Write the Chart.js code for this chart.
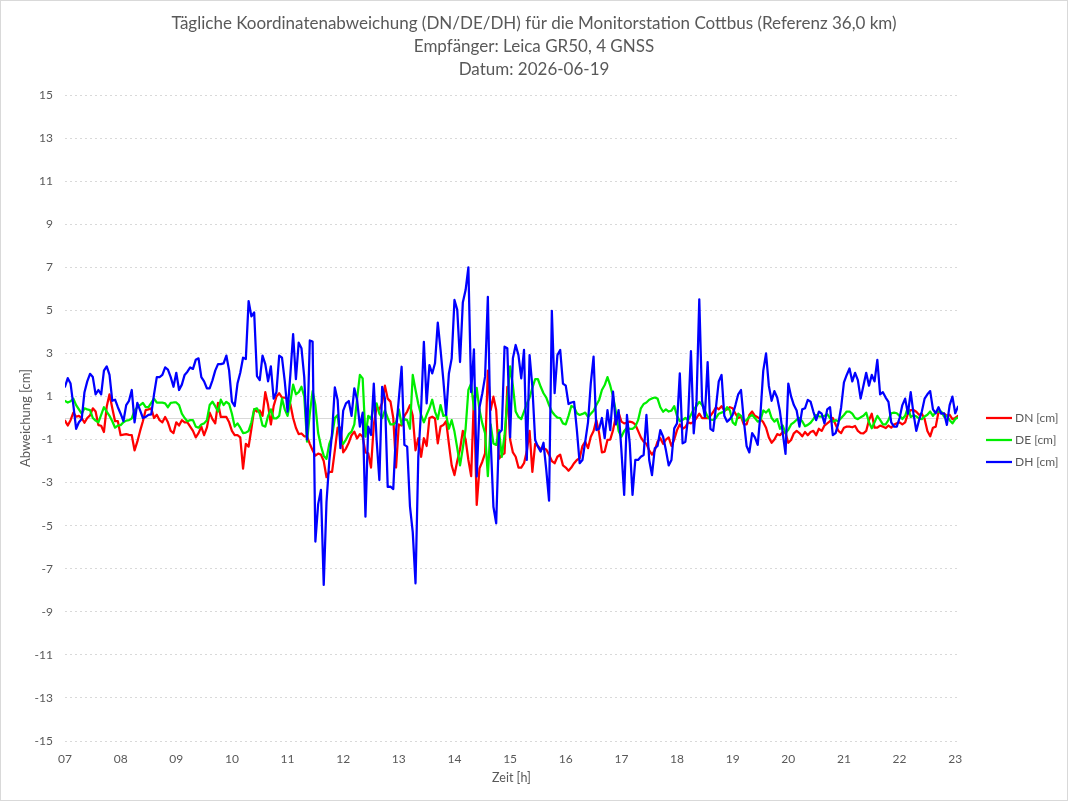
<!DOCTYPE html>
<html>
<head>
<meta charset="utf-8">
<script src="https://cdn.jsdelivr.net/npm/chart.js@4.4.1/dist/chart.umd.min.js"></script>
<style>
  html, body { margin: 0; padding: 0; background: #fff; }
  canvas { display: block; }
</style>
</head>
<body>
<canvas id="chart" width="1068" height="801"></canvas>
<script>
// Zeitachse: 07:00 bis 23:03 in 3-Minuten-Schritten
const startHour = 7;
const stepHour = 0.05;
const xTickLabels = ['07','08','09','10','11','12','13','14','15','16','17','18','19','20','21','22','23'];
const yTicks = [-15, -13, -11, -9, -7, -5, -3, -1, 1, 3, 5, 7, 9, 11, 13, 15];

// DN [cm] (eine Zeile pro Stunde)
const dn = [
  -0.12, -0.35, -0.1, 0.25, 0.06, 0.1, 0.0, -0.22, 0.0, 0.12, 0.45, 0.3, -0.33, -0.36, -0.65, 0.53, 1.1, 0.45, -0.15, -0.15,
  -0.8, -0.77, -0.75, -0.78, -0.8, -1.5, -1.1, -0.6, -0.15, 0.37, 0.4, 0.45, 0.0, 0.15, -0.1, -0.2, 0.05, -0.2, -0.6, -0.7,
  -0.2, -0.35, -0.1, -0.2, -0.2, -0.4, -0.6, -0.9, -0.7, -0.4, -0.8, -0.45, 0.25, -0.05, -0.25, 0.7, 0.05, 0.05, 0.05, -0.2,
  -0.6, -0.8, -0.8, -0.9, -2.35, -1.2, -1.33, -0.5, 0.4, 0.3, 0.35, 0.1, 1.2, 0.6, -0.3, 0.55, 1.0, 1.15, 0.95, 0.95,
  0.88, 0.65, 0.0, -0.45, -0.75, -0.72, -0.85, -0.85, -1.2, -1.5, -1.75, -1.65, -1.7, -2.0, -2.75, -2.5, -2.5, -1.5, -0.45, -0.45,
  -1.6, -1.42, -1.15, -0.8, -0.63, -0.95, -0.75, -0.87, -1.6, -1.64, -2.3, -0.3, 0.5, 0.4, 0.7, 1.5, 0.9, 0.76, 0.0, -2.3,
  -0.3, -0.35, 0.1, 0.3, 0.6, 0.1, -1.5, -0.94, -1.8, -0.94, -1.3, 0.0, 0.06, -0.02, -1.18, -0.4, -0.33, -0.15, -1.2, -2.2,
  -2.65, -2.0, -1.45, -0.6, -1.0, -1.95, -2.7, 1.0, -4.04, -2.34, -2.03, -1.64, 2.2, 0.37, 0.99, 0.37, -1.89, -1.72, -1.64, 1.45,
  -1.0, -1.6, -1.8, -2.3, -2.3, -2.1, -1.55, -0.6, -2.5, -1.2, -1.3, -1.45, -1.41, -1.46, -1.7, -2.0, -2.1, -1.8, -1.7, -2.2,
  -2.3, -2.45, -2.3, -2.1, -1.95, -1.87, -1.3, -1.1, -1.4, -0.87, -0.6, -0.1, -0.7, -1.6, -1.56, -1.02, -1.0, -0.56, 0.05, 0.25,
  -0.17, -0.25, -0.22, -0.17, -0.2, -0.3, -0.6, -0.9, -1.1, -1.2, -1.5, -1.7, -1.5, -1.1, -0.94, -1.2, -1.0, -0.9, -1.3, -1.0,
  -0.56, -0.3, -0.5, -0.42, -0.2, -0.25, -0.17, 0.0, 0.2, 0.0, 0.0, 0.0, 0.1, 0.28, 0.5, 0.4, 0.55, 0.35, 0.4, 0.5,
  0.45, 0.2, 0.0, 0.06, -0.3, -0.3, 0.14, 0.3, 0.1, 0.03, -0.05, -0.2, -0.45, -0.9, -1.15, -1.0, -0.75, -0.8, -0.65, -0.7,
  -1.15, -1.02, -0.71, -0.6, -0.7, -0.85, -0.65, -0.8, -0.65, -0.6, -0.8, -0.5, -0.6, -0.35, -0.25, -0.15, 0.0, -0.3, -0.6, -0.7,
  -0.45, -0.4, -0.4, -0.43, -0.37, -0.6, -0.7, -0.71, -0.6, -0.1, 0.2, -0.45, -0.45, -0.35, -0.4, -0.47, -0.35, -0.45, -0.3, -0.25,
  -0.2, -0.3, -0.2, 0.2, 0.37, 0.37, 0.29, 0.15, 0.2, -0.05, -0.6, -0.85, -0.45, -0.4, 0.29, 0.22, 0.2, 0.1, 0.15, -0.05,
  0.0, 0.1
];

// DE [cm]
const de = [
  0.79, 0.72, 0.78, 0.9, 0.6, 0.4, 0.2, 0.45, 0.4, 0.37, 0.0, -0.12, -0.2, 0.15, 0.5, 0.3, 0.1, -0.15, -0.45, -0.35,
  -0.33, -0.2, -0.12, -0.1, -0.02, 0.35, 0.5, 0.6, 0.7, 0.5, 0.5, 0.7, 0.9, 0.71, 0.71, 0.71, 0.68, 0.5, 0.7, 0.72,
  0.72, 0.6, 0.2, 0.0, -0.15, -0.1, -0.1, -0.4, -0.45, -0.3, -0.25, -0.1, 0.6, 0.76, 0.55, 0.3, 0.85, 0.6, 0.75, 0.65,
  0.2, -0.4, -0.25, -0.45, -0.7, -0.68, -0.6, -0.2, 0.4, 0.45, 0.2, -0.35, -0.4, 0.1, 0.4, -0.02, -0.02, 0.1, 0.9, 0.4,
  0.1, 0.76, 1.55, 1.1, 1.2, 1.45, 1.0, -1.1, 0.2, 1.25, 0.6, -0.7, -1.3, -1.75, -1.9, -1.2, -0.85, 0.0, 0.14, -1.0,
  -1.2, -1.0, -0.75, -0.63, -0.3, 0.9, 2.0, 1.84, -0.87, 0.1, -0.05, 0.55, 0.68, 0.2, 0.0, 0.35, 0.0, -0.3, -0.3, -0.2,
  0.4, -0.3, -0.05, -0.1, -0.5, 2.0, 1.3, 0.65, 0.14, -0.2, 0.15, 0.45, 0.85, 0.3, -0.05, 0.6, 0.1, 0.14, -0.5, -0.1,
  -0.63, -1.4, -2.2, -1.4, -0.5, 1.3, 1.6, 0.4, 1.4, 0.37, -0.25, -0.7, -2.7, -0.3, -1.18, -1.25, -0.56, -1.8, -0.8, 0.8,
  2.4, 1.5, 0.3, 0.05, -0.05, 0.3, 0.65, 0.95, 1.4, 1.8, 1.8, 1.45, 1.15, 0.95, 0.6, 0.3, 0.14, 0.02, 0.0, -0.25,
  -0.3, 0.1, 0.56, 0.5, 0.22, 0.14, 0.19, 0.25, 0.05, 0.2, 0.34, 0.6, 0.84, 1.3, 1.53, 1.9, 1.5, 1.0, 0.3, -0.6,
  -0.87, -0.6, -0.45, -0.5, -0.5, -0.4, -0.1, 0.45, 0.65, 0.72, 0.85, 0.91, 0.95, 0.9, 0.5, 0.29, 0.4, 0.3, 0.34, 0.55,
  0.1, -0.15, -0.09, 0.0, -0.1, 0.15, 0.4, 0.56, 0.75, 0.6, 0.35, 0.05, -0.08, -0.09, 0.0, 0.2, 0.25, 0.3, 0.5, 0.35,
  -0.2, -0.32, 0.2, 0.1, -0.15, -0.1, 0.06, 0.14, 0.0, -0.17, -0.1, 0.35, 0.25, 0.4, 0.0, -0.17, -0.05, -0.5, -0.35, -0.7,
  -0.55, -0.3, -0.2, -0.08, 0.0, -0.15, -0.38, -0.32, -0.22, -0.05, 0.14, 0.08, 0.06, 0.1, 0.18, 0.0, -0.17, -0.1, -0.15, 0.0,
  0.14, 0.3, 0.3, 0.2, 0.0, -0.05, 0.03, 0.1, 0.25, -0.2, -0.48, -0.2, 0.1, -0.09, -0.3, -0.3, -0.1, 0.22, 0.25, 0.22,
  0.1, -0.05, 0.1, 0.5, 0.05, 0.12, 0.08, -0.02, -0.05, 0.07, 0.15, 0.3, 0.1, 0.28, 0.3, 0.3, 0.06, 0.1, -0.1, -0.25,
  -0.05, 0.03
];

// DH [cm]
const dh = [
  1.45, 1.85, 1.6, 0.6, -0.5, -0.2, -0.05, 1.2, 1.7, 2.05, 1.9, 1.1, 1.3, 1.1, 2.2, 2.4, 2.0, 0.8, 0.85, 0.5,
  0.2, -0.15, 0.6, 0.8, 1.3, -0.2, 0.7, 0.35, 0.0, 0.05, 0.15, 0.17, 1.1, 1.9, 1.9, 2.0, 2.35, 2.25, 1.9, 1.45,
  2.1, 1.3, 1.55, 2.0, 2.15, 2.35, 2.28, 2.7, 2.77, 1.9, 1.7, 1.38, 1.38, 1.75, 2.2, 2.5, 2.5, 2.54, 2.9, 2.2,
  0.76, 0.55, 1.6, 2.1, 2.8, 2.74, 5.43, 4.72, 4.9, 1.95, 1.76, 2.9, 2.5, 1.7, 2.4, 0.9, 1.2, 2.9, 2.8, 1.7,
  0.3, 2.0, 3.9, 1.8, 3.5, 3.24, 1.9, -1.0, 3.6, 3.55, -5.74, -4.0, -3.34, -7.75, -3.9, -2.0, -0.7, 1.42, 0.84, -1.4,
  0.34, 0.68, 0.79, 0.1, 1.38, 0.84, -0.4, 0.25, -4.58, -0.4, -0.79, 1.6, -1.0, -2.88, 1.45, 0.91, -3.2, -3.19, -3.3, -0.6,
  0.9, 2.38, -1.25, -1.33, -4.1, -5.3, -7.68, -1.8, 0.37, 3.54, 0.68, 2.46, 2.07, 2.54, 4.43, 3.16, 1.76, 0.14, 2.07, 2.77,
  5.48, 5.02, 2.6, 5.36, 5.94, 7.0, 1.2, 3.19, -2.72, 0.5, 1.14, 1.92, 5.63, -1.0, -4.12, -4.89, -0.71, -0.56, 3.31, 3.24,
  -0.9, 2.77, 3.39, 2.92, 1.84, 3.16, -1.95, 2.92, 1.45, -1.02, -1.33, -1.56, -1.15, -2.41, -3.84, 4.98, 1.15, 2.92, 3.16, 1.6,
  1.5, 0.65, 0.72, 0.75, -0.56, -2.1, -1.95, -1.1, -0.2, 1.61, 2.85, -0.56, -0.5, 0.0, -0.94, 0.37, -0.56, 1.22, -0.3, 0.37,
  -1.49, -3.57, 0.14, -1.18, -3.57, -1.95, -1.95, -1.8, -1.72, 0.14, -1.95, -2.65, -1.41, -1.3, -0.56, -0.87, -1.49, -2.2, -1.95, -0.48,
  -0.25, 2.07, -1.18, -1.1, 0.06, 3.1, -0.71, 0.76, 5.51, 0.8, 0.06, 2.6, -0.5, -0.6, 0.5, 1.7, 2.0, 0.1, -0.17, -0.05,
  0.15, 0.6, 1.1, 1.3, -0.1, -1.3, -1.6, -0.7, -0.9, -1.25, 0.2, 2.2, 3.0, 1.5, 0.8, 1.25, 0.95, 0.3, -0.7, -1.67,
  1.6, 1.0, 0.6, 0.35, -0.4, 0.4, 0.45, 0.84, 0.76, 0.3, -0.1, 0.3, 0.2, -0.25, 0.4, 0.5, -0.8, -0.7, -0.25, 0.5,
  1.65, 2.0, 2.3, 1.7, 2.1, 1.76, 0.9, 1.5, 2.1, 1.5, 2.0, 1.7, 2.7, 1.1, 1.2, 0.95, 0.75, -0.2, -0.4, -0.4,
  0.0, 0.6, 0.9, 0.2, 1.2, 0.2, -0.6, -0.1, 0.3, 0.9, 1.1, 1.25, 0.4, 0.22, 0.5, 0.2, 0.22, -0.32, 0.6, 0.99,
  0.22, 0.53
];

const times = dn.map((v, i) => startHour + i * stepHour);
const toPoints = arr => arr.map((v, i) => ({ x: times[i], y: v }));

const textColor = '#595959';
const gridColor = '#d9d9d9';
const fontFamily = 'Lato, "Open Sans", sans-serif';

// weisser Hintergrund + Rahmen, Nulllinie, Legende rechts
const chartDecor = {
  id: 'chartDecor',
  beforeDraw(chart) {
    const c = chart.ctx;
    c.save();
    c.fillStyle = '#fff';
    c.fillRect(0, 0, chart.width, chart.height);
    c.strokeStyle = gridColor;
    c.lineWidth = 1;
    c.strokeRect(0.5, 0.5, chart.width - 1, chart.height - 1);
    c.restore();
  },
  beforeDatasetsDraw(chart) {
    const c = chart.ctx;
    const area = chart.chartArea;
    const y0 = Math.round(chart.scales.y.getPixelForValue(0)) + 0.5;
    c.save();
    c.strokeStyle = gridColor;
    c.lineWidth = 1;
    c.beginPath();
    c.moveTo(area.left, y0);
    c.lineTo(area.right, y0);
    c.stroke();
    c.restore();
  },
  afterDraw(chart) {
    const c = chart.ctx;
    c.save();
    c.font = '12px ' + fontFamily;
    c.textBaseline = 'middle';
    chart.data.datasets.forEach((ds, i) => {
      const y = 418 + i * 22;
      c.strokeStyle = ds.borderColor;
      c.lineWidth = 2.25;
      c.beginPath();
      c.moveTo(986, y);
      c.lineTo(1012, y);
      c.stroke();
      c.fillStyle = textColor;
      c.fillText(ds.label, 1015, y);
    });
    c.restore();
  }
};

const ctx = document.getElementById('chart').getContext('2d');
const chart = new Chart(ctx, {
  type: 'line',
  data: {
    datasets: [
      { label: 'DN [cm]', data: toPoints(dn), borderColor: '#ff0000', order: 3 },
      { label: 'DE [cm]', data: toPoints(de), borderColor: '#00ee00', order: 2 },
      { label: 'DH [cm]', data: toPoints(dh), borderColor: '#0000ff', order: 1 }
    ]
  },
  options: {
    responsive: false,
    animation: false,
    events: [],
    layout: { padding: 0 },
    elements: {
      point: { radius: 0 },
      line: { borderWidth: 2.25, tension: 0, borderJoinStyle: 'round', borderCapStyle: 'round' }
    },
    plugins: {
      legend: { display: false },
      tooltip: { enabled: false },
      title: {
        display: true,
        text: [
          'Tägliche Koordinatenabweichung (DN/DE/DH) für die Monitorstation Cottbus (Referenz 36,0 km)',
          'Empfänger: Leica GR50, 4 GNSS',
          'Datum: 2026-06-19'
        ],
        color: textColor,
        font: { family: fontFamily, size: 17, weight: 'normal', lineHeight: '23px' },
        padding: { top: 12, bottom: 14 }
      }
    },
    scales: {
      x: {
        type: 'linear',
        min: startHour,
        max: 23.05,
        grid: { display: false },
        border: { display: false },
        ticks: {
          stepSize: 1,
          includeBounds: false,
          padding: 3,
          color: textColor,
          font: { family: fontFamily, size: 12 },
          maxRotation: 0,
          callback: v => xTickLabels[v - startHour]
        },
        title: {
          display: true,
          text: 'Zeit [h]',
          color: textColor,
          font: { family: fontFamily, size: 12.5 },
          padding: { top: 0, bottom: 16 }
        },
        afterFit: s => { s.height = 60; }
      },
      y: {
        type: 'linear',
        min: -15,
        max: 15,
        afterBuildTicks: s => { s.ticks = yTicks.map(v => ({ value: v })); },
        grid: { color: gridColor, lineWidth: 1, drawTicks: false, borderDash: [2, 3] },
        border: { display: false, dash: [2, 3] },
        ticks: {
          padding: 12,
          color: textColor,
          font: { family: fontFamily, size: 12 }
        },
        title: {
          display: true,
          text: 'Abweichung [cm]',
          color: textColor,
          font: { family: fontFamily, size: 13 },
          padding: { top: 18, bottom: 0 }
        },
        afterFit: s => { s.width = 65; }
      },
      // leerer Platz rechts fuer die Legende
      legendSpace: {
        type: 'linear',
        position: 'right',
        display: true,
        grid: { display: false },
        border: { display: false },
        ticks: { display: false },
        afterFit: s => { s.width = 110; }
      }
    }
  },
  plugins: [chartDecor]
});
</script>
</body>
</html>
